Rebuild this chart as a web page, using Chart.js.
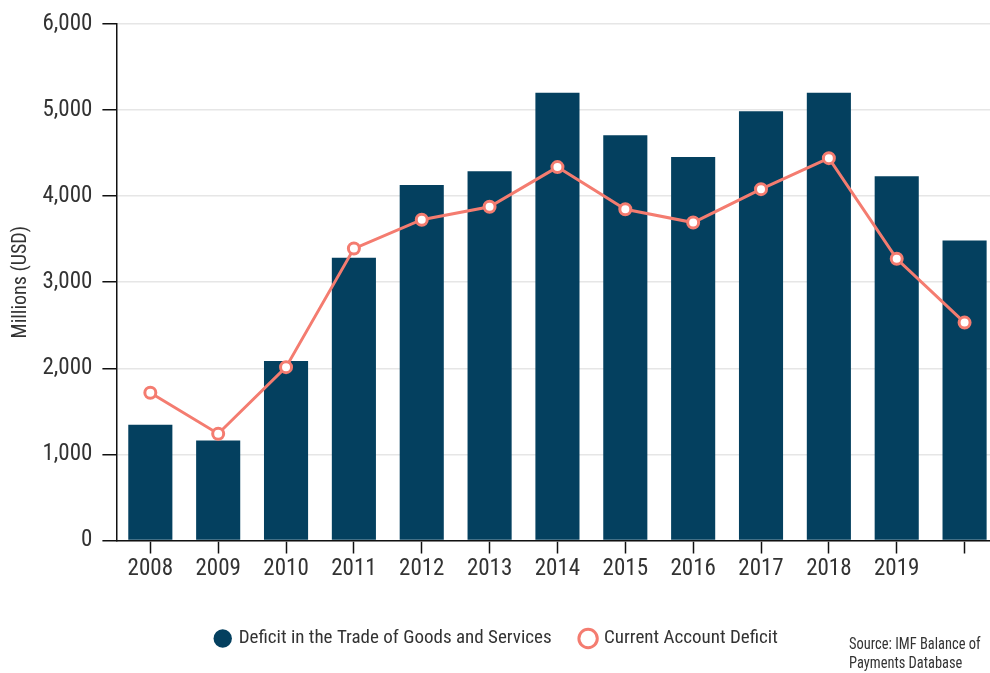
<!DOCTYPE html>
<html>
<head>
<meta charset="utf-8">
<script src="https://cdn.jsdelivr.net/npm/chart.js@4.4.1/dist/chart.umd.min.js"></script>
<style>
  html, body { margin: 0; padding: 0; background: #fff; overflow: hidden; }
  #wrap { position: relative; width: 1007px; height: 673px; }
  #source {
    position: absolute; left: 849px; top: 634px; white-space: nowrap;
    font-family: "Roboto Condensed", Roboto, "Liberation Sans Narrow", "DejaVu Sans Condensed", sans-serif;
    font-stretch: condensed; font-size: 17px;
    line-height: 19px; color: #333;
    transform: scaleX(0.85); transform-origin: left top;
  }
</style>
</head>
<body>
<div id="wrap">
  <canvas id="deficit-chart"></canvas>
  <div id="source">Source: IMF Balance of<br>Payments Database</div>
</div>
<script>
const years = ["2008", "2009", "2010", "2011", "2012", "2013", "2014",
  "2015", "2016", "2017", "2018", "2019", ""];

// millions of USD
const tradeDeficit = [1345, 1160, 2085, 3283, 4127, 4289, 5200,
  4707, 4452, 4985, 5200, 4231, 3485];
const currentAccountDeficit = [1715, 1240, 2013, 3390, 3725, 3875, 4336,
  3846, 3692, 4080, 4440, 3272, 2530];

const yTicks = [0, 1000, 2000, 3000, 4000, 5000, 6000];

const FONT = "'Roboto Condensed', Roboto, 'Liberation Sans Narrow', 'DejaVu Sans Condensed', sans-serif";
const NAVY = "#04405f";
const CORAL = "#f47c70";

Chart.defaults.font.family = FONT;
// goes into the canvas font shorthand as font-stretch
Chart.defaults.font.weight = "condensed";
Chart.defaults.color = "#333";

new Chart(document.getElementById("deficit-chart").getContext("2d"), {
  type: "bar",
  data: {
    labels: years,
    datasets: [
      {
        type: "bar",
        label: "Deficit in the Trade of Goods and Services",
        data: tradeDeficit,
        backgroundColor: NAVY,
        borderColor: NAVY,
        borderWidth: 0,
        categoryPercentage: 1,
        barPercentage: 0.65,
        order: 2,
      },
      {
        type: "line",
        label: "Current Account Deficit",
        data: currentAccountDeficit,
        borderColor: CORAL,
        backgroundColor: "#fff",
        borderWidth: 3,
        pointRadius: 5.5,
        pointBorderWidth: 3,
        pointBackgroundColor: "#fff",
        pointBorderColor: CORAL,
        tension: 0,
        order: 1,
      },
    ],
  },
  options: {
    responsive: true,
    maintainAspectRatio: false,
    animation: false,
    // negative left padding keeps the legend centred a little left of the canvas middle
    layout: { padding: { top: 23, left: -13, right: 0, bottom: 15 } },
    scales: {
      x: {
        afterFit: (scale) => { scale.height = 58.5; },
        border: { color: "#111", width: 1.5 },
        grid: {
          offset: false,
          drawOnChartArea: false,
          tickLength: 13,
          tickColor: "#111",
          tickWidth: 1.5,
        },
        ticks: { padding: 2, font: { size: 23 }, color: "#333", maxRotation: 0 },
      },
      y: {
        min: 0,
        max: 6000,
        afterFit: (scale) => { scale.width = 129.4; },
        afterBuildTicks: (scale) => { scale.ticks = yTicks.map((v) => ({ value: v })); },
        border: { color: "#111", width: 1.5 },
        grid: {
          color: "#e6e6e6",
          lineWidth: 1.5,
          tickLength: 14,
          tickColor: "#111",
          tickWidth: 1.5,
        },
        ticks: {
          padding: 10,
          font: { size: 23 },
          color: "#333",
          callback: (v) => v.toLocaleString("en-US"),
        },
        title: {
          display: true,
          text: "Millions (USD)",
          font: { size: 20 },
          color: "#333",
          padding: { top: 22, bottom: 0 },
        },
      },
    },
    plugins: {
      tooltip: { enabled: false },
      legend: {
        position: "bottom",
        labels: {
          usePointStyle: true,
          pointStyle: "circle",
          boxWidth: 13,
          boxHeight: 13,
          padding: 30,
          font: { size: 19 },
          color: "#333",
          sort: (a, b) => a.datasetIndex - b.datasetIndex,
        },
      },
    },
  },
});
</script>
</body>
</html>
